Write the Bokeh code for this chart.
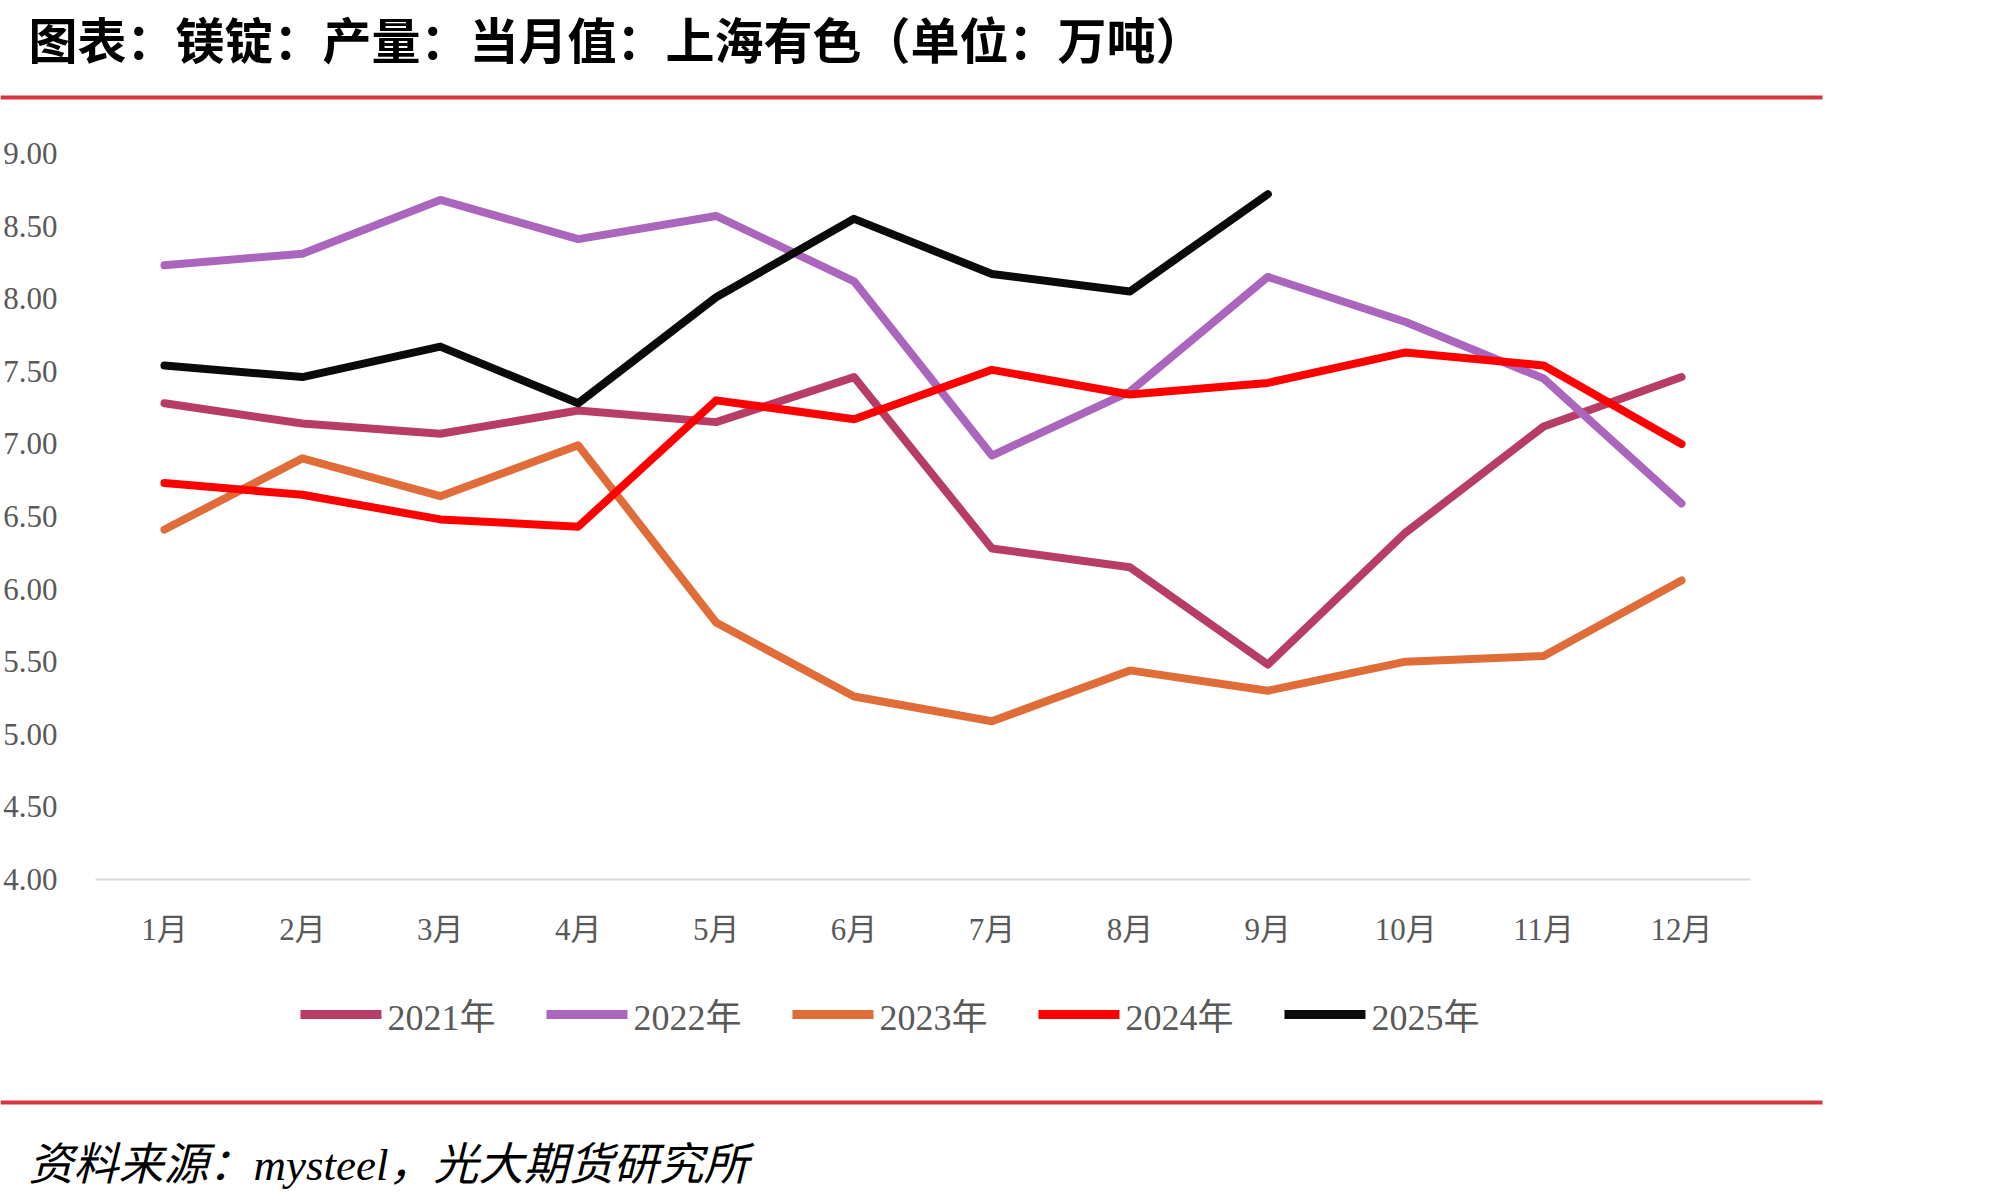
from bokeh.plotting import figure
from bokeh.layouts import column
from bokeh.models import (FactorRange, Range1d, FixedTicker, NumeralTickFormatter,
                          Legend, LegendItem)
from bokeh.core.properties import value
from bokeh.embed import file_html
from bokeh.resources import INLINE

# ---------------- data ----------------
months = ["1月", "2月", "3月", "4月", "5月", "6月", "7月", "8月", "9月", "10月", "11月", "12月"]
y_ticks = [4.0, 4.5, 5.0, 5.5, 6.0, 6.5, 7.0, 7.5, 8.0, 8.5, 9.0]

s2021 = [7.28, 7.14, 7.07, 7.23, 7.15, 7.46, 6.28, 6.15, 5.48, 6.39, 7.12, 7.46]
s2022 = [8.23, 8.31, 8.68, 8.41, 8.57, 8.12, 6.92, 7.36, 8.15, 7.84, 7.45, 6.59]
s2023 = [6.41, 6.90, 6.64, 6.99, 5.77, 5.26, 5.09, 5.44, 5.30, 5.50, 5.54, 6.06]
s2024 = [6.73, 6.65, 6.48, 6.43, 7.30, 7.17, 7.51, 7.34, 7.42, 7.63, 7.54, 7.00]
s2025 = [7.54, 7.46, 7.67, 7.28, 8.01, 8.55, 8.17, 8.05, 8.72]

series_names = ["2021年", "2022年", "2023年", "2024年", "2025年"]
series_values = [s2021, s2022, s2023, s2024, s2025]
series_colors = ["#B83C68", "#A966BC", "#E06C38", "#FF0000", "#0A0A0A"]

title_text = "图表：镁锭：产量：当月值：上海有色（单位：万吨）"
source_text = "资料来源：mysteel，光大期货研究所"

SERIF = "'Liberation Serif', 'Noto Sans CJK SC'"
RULE = "#D6353A"
W = 1995


def blank(height):
    f = figure(width=W, height=height, x_range=Range1d(0, W),
               y_range=Range1d(height, 0), min_border=0,
               x_axis_location=None, y_axis_location=None,
               output_backend="svg", toolbar_location=None, frame_align=False)
    f.grid.visible = False
    f.outline_line_color = None
    f.background_fill_color = "white"
    f.border_fill_color = "white"
    return f


# ---------------- header ----------------
head = blank(120)
head.text(x=[28], y=[37], text=[title_text], text_font=value("Noto Sans CJK SC"),
          text_font_style="bold", text_font_size="49px", text_baseline="middle",
          text_align="left", text_color="black")
head.segment(x0=[0], y0=[97], x1=[1822], y1=[97], line_width=4, line_color=RULE)

# ---------------- chart ----------------
p = figure(width=W, height=844,
           x_range=FactorRange(*months, range_padding=0),
           y_range=Range1d(4, 9),
           output_backend="svg", toolbar_location=None, frame_align=False,
           min_border_left=95, min_border_right=245,
           min_border_top=33, min_border_bottom=85)
p.outline_line_color = None
p.xgrid.visible = False
p.ygrid.visible = False
p.background_fill_color = "white"
p.border_fill_color = "white"

p.yaxis.ticker = FixedTicker(ticks=y_ticks)
p.yaxis.formatter = NumeralTickFormatter(format="0.00")
p.yaxis.axis_line_color = None
p.yaxis.major_tick_line_color = None
p.yaxis.minor_tick_line_color = None
p.yaxis.major_label_text_font_size = "31px"
p.yaxis.major_label_text_color = "#595959"
p.yaxis.major_label_text_font = SERIF
p.yaxis.major_label_standoff = 32

p.xaxis.axis_line_color = "#D9D9D9"
p.xaxis.axis_line_width = 2
p.xaxis.major_tick_line_color = None
p.xaxis.minor_tick_line_color = None
p.xaxis.major_label_text_font_size = "31px"
p.xaxis.major_label_text_color = "#595959"
p.xaxis.major_label_text_font = SERIF
p.xaxis.major_label_standoff = 26

for vals, col in zip(series_values, series_colors):
    p.line(x=months[:len(vals)], y=vals, line_width=8, line_color=col,
           line_cap="round", line_join="round")

# ---------------- legend strip ----------------
leg = figure(width=W, height=100, x_range=FactorRange(*months), y_range=Range1d(0, 1),
             min_border_left=0, min_border_right=215, min_border_top=0, min_border_bottom=0,
             x_axis_location=None, y_axis_location=None, frame_align=False,
             output_backend="svg", toolbar_location=None)
leg.grid.visible = False
leg.outline_line_color = None
leg.border_fill_color = "white"
items = []
for name, vals, col in zip(series_names, series_values, series_colors):
    # same series (outside this strip's visible range) only feed the legend swatches
    r = leg.line(x=months[:len(vals)], y=vals, line_width=9, line_color=col, line_cap="round")
    items.append(LegendItem(label=name, renderers=[r]))
legend = Legend(items=items, orientation="horizontal", location="center",
                glyph_width=81, glyph_height=30, label_standoff=6, spacing=51,
                label_text_font_size="36px", label_text_color="#595959",
                label_text_font=SERIF, border_line_color=None,
                background_fill_alpha=0, margin=0, padding=0)
leg.add_layout(legend, "center")

# ---------------- footer ----------------
foot = blank(136)
foot.segment(x0=[0], y0=[38], x1=[1822], y1=[38], line_width=4, line_color=RULE)
foot.text(x=[28], y=[100], text=[source_text], text_font=value(SERIF),
          text_font_style="italic", text_font_size="45px", text_baseline="middle",
          text_align="left", text_color="black")

layout = column(head, p, leg, foot, spacing=0)
open("out.html", "w").write(file_html(layout, INLINE))
